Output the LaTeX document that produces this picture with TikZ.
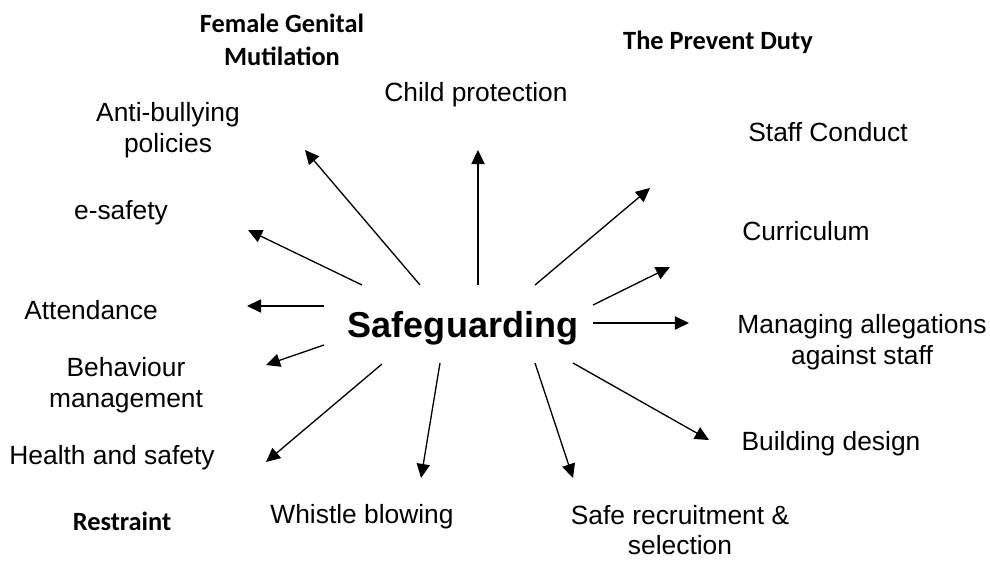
\documentclass[tikz,border=0pt]{standalone}
\usepackage{fontspec}
\setmainfont{Liberation Sans}
\newfontfamily\carlito{Carlito}
\usetikzlibrary{arrows.meta}

\begin{document}
\begin{tikzpicture}[
    topic/.style={font=\fontsize{15}{17.5}\selectfont, align=center, inner sep=0pt},
    extra/.style={font=\carlito\bfseries\fontsize{15}{19}\selectfont, align=center, inner sep=0pt},
    spoke/.style={line width=0.75pt, -{Triangle[length=8pt,width=7.5pt]}}
]
% Fix the page to the reference size
\useasboundingbox (0, 0) rectangle (19.8, 11.66);

% Centre word
\node[font=\bfseries\fontsize{20.5}{24}\selectfont, inner sep=0pt] (safe) at (9.26, 5.10) {Safeguarding};

% Topics round the centre
\node[topic] (child) at (9.52, 9.76) {Child protection};
\node[topic] (bully) at (3.36, 9.06) {Anti-bullying\\policies};
\node[topic] (staff) at (16.56, 9.02) {Staff Conduct};
\node[topic] (esafe) at (2.42, 7.40) {e-safety};
\node[topic] (curric) at (16.12, 7.04) {Curriculum};
\node[topic] (attend) at (1.82, 5.46) {Attendance};
\node[topic] (manage) at (17.24, 4.82) {Managing allegations\\against staff};
\node[topic] (behave) at (2.52, 3.96) {Behaviour\\management};
\node[topic] (build) at (16.62, 2.78) {Building design};
\node[topic] (health) at (2.24, 2.50) {Health and safety};
\node[topic] (whistle) at (7.24, 1.32) {Whistle blowing};
\node[topic] (recruit) at (13.60, 1.06) {Safe recruitment \&\\selection};

% Added later, in bold
\node[extra] (fgm) at (5.64, 10.86) {Female Genital\\Mutilation};
\node[extra] (prevent) at (14.36, 10.82) {The Prevent Duty};
\node[extra] (restrain) at (2.44, 1.24) {Restraint};

% Start and end of each spoke
\coordinate (s1) at (8.40, 5.96);   \coordinate (t1) at (6.10, 8.66);
\coordinate (s2) at (9.56, 5.96);   \coordinate (t2) at (9.56, 8.66);
\coordinate (s3) at (7.24, 5.96);   \coordinate (t3) at (4.96, 7.06);
\coordinate (s4) at (10.70, 5.96);  \coordinate (t4) at (13.00, 7.90);
\coordinate (s5) at (11.86, 5.56);  \coordinate (t5) at (13.40, 6.32);
\coordinate (s6) at (11.86, 5.20);  \coordinate (t6) at (13.78, 5.20);
\coordinate (s7) at (6.48, 5.54);   \coordinate (t7) at (4.94, 5.54);
\coordinate (s8) at (6.48, 4.76);   \coordinate (t8) at (5.32, 4.36);
\coordinate (s9) at (7.64, 4.38);   \coordinate (t9) at (5.32, 2.42);
\coordinate (s10) at (8.80, 4.40);  \coordinate (t10) at (8.42, 2.10);
\coordinate (s11) at (10.70, 4.40); \coordinate (t11) at (11.46, 2.10);
\coordinate (s12) at (11.46, 4.40); \coordinate (t12) at (14.18, 2.86);

% Draw the spokes
\foreach \i in {1,...,12}
    \draw[spoke] (s\i) -- (t\i);
\end{tikzpicture}
\end{document}
